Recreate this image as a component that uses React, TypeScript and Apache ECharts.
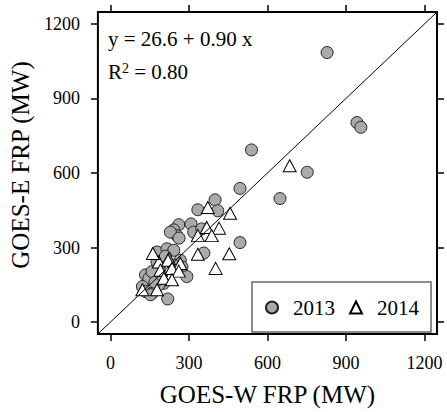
import React, { useEffect, useRef } from "react";
import * as echarts from "echarts";

// 2013 points: [GOES-W FRP, GOES-E FRP]
const data2013: number[][] = [
  [828, 1085], [942, 803], [957, 784], [752, 603], [648, 497], [539, 693],
  [495, 538], [400, 492], [410, 448], [334, 452], [495, 320], [357, 278],
  [261, 392], [308, 395], [242, 371], [254, 348], [229, 362], [318, 362],
  [349, 375], [178, 282], [216, 295], [242, 289], [262, 338], [178, 242],
  [267, 249], [273, 222], [254, 216], [292, 183], [134, 190], [147, 176],
  [159, 203], [204, 156], [185, 150], [122, 143], [134, 123], [159, 116],
  [219, 93], [153, 110], [170, 160], [195, 190], [240, 230], [210, 265],
];

// 2014 points
const data2014: number[][] = [
  [685, 629], [372, 461], [457, 438], [368, 381], [415, 378], [387, 348],
  [454, 275], [402, 216], [334, 348], [334, 273], [185, 242], [223, 256],
  [267, 236], [162, 276], [220, 249], [191, 209], [235, 216], [261, 205],
  [204, 176], [235, 170], [122, 130], [178, 130],
];

const tickValues = [0, 300, 600, 900, 1200];
const axisMin = -48;
const axisMax = 1248;
const seriesNames = ["2013", "2014"];
const fitText = "y = 26.6 + 0.90 x";
const r2Value = "0.80";

const FONT = "Liberation Serif";

export default function App() {
  const ref = useRef<HTMLDivElement>(null);
  useEffect(() => {
    if (!ref.current) return;
    const chart = echarts.init(ref.current, null, { renderer: "svg" });
    const tickCommon = {
      show: true,
      inside: false,
      length: 7,
      customValues: tickValues,
      lineStyle: { color: "#000", width: 1.5 },
    };
    const baseAxis = {
      type: "value" as const,
      min: axisMin,
      max: axisMax,
      splitLine: { show: false },
      axisLine: { show: false, onZero: false },
    };
    const fmt = (v: number) => String(v);
    chart.setOption({
      animation: false,
      backgroundColor: "#fff",
      grid: {
        left: 95,
        right: 10,
        top: 12,
        bottom: 73,
        show: true,
        borderColor: "#000",
        borderWidth: 2,
        backgroundColor: "transparent",
      },
      xAxis: [
        {
          ...baseAxis,
          position: "bottom",
          axisTick: tickCommon,
          axisLabel: {
            customValues: tickValues,
            formatter: fmt,
            margin: 20,
            color: "#000",
            fontSize: 18,
            fontFamily: FONT,
          },
          name: "GOES-W FRP (MW)",
          nameLocation: "middle",
          nameGap: 48,
          nameTextStyle: { color: "#000", fontSize: 25, fontFamily: FONT },
        },
        {
          ...baseAxis,
          position: "top",
          axisTick: tickCommon,
          axisLabel: { show: false },
        },
      ],
      yAxis: [
        {
          ...baseAxis,
          position: "left",
          axisTick: tickCommon,
          axisLabel: {
            customValues: tickValues,
            formatter: fmt,
            margin: 18,
            color: "#000",
            fontSize: 18,
            fontFamily: FONT,
          },
          name: "GOES-E FRP (MW)",
          nameLocation: "middle",
          nameGap: 57,
          nameTextStyle: {
            color: "#000",
            fontSize: 25,
            fontFamily: FONT,
            padding: [0, 0, 0, 16],
          },
        },
        {
          ...baseAxis,
          position: "right",
          axisTick: tickCommon,
          axisLabel: { show: false },
        },
      ],
      legend: {
        left: 252,
        top: 282,
        orient: "horizontal",
        data: seriesNames,
        padding: [15, 12, 14, 13],
        itemGap: 14,
        itemWidth: 12,
        itemHeight: 12,
        symbolKeepAspect: true,
        borderColor: "#666",
        borderWidth: 1.5,
        textStyle: {
          color: "#000",
          fontSize: 21,
          fontFamily: FONT,
          padding: [0, 0, 0, 10],
        },
      },
      graphic: [
        {
          type: "text",
          left: 108,
          top: 28,
          style: {
            text: fitText,
            fontSize: 21,
            fontFamily: FONT,
            fill: "#000",
          },
        },
        {
          type: "text",
          left: 108,
          top: 61,
          style: {
            text: "R{sup|2} = " + r2Value,
            fontSize: 21,
            fontFamily: FONT,
            fill: "#000",
            rich: {
              sup: {
                fontSize: 14,
                fontFamily: FONT,
                verticalAlign: "top",
                padding: [0, 0, 8, 0],
              },
            },
          },
        },
      ],
      series: [
        {
          name: seriesNames[0],
          type: "scatter",
          data: data2013,
          symbol: "circle",
          symbolSize: 12,
          itemStyle: { color: "#aaaaaa", borderColor: "#222", borderWidth: 1, opacity: 1 },
          z: 2,
        },
        {
          name: seriesNames[1],
          type: "scatter",
          data: data2014,
          symbol: "triangle",
          symbolSize: [13, 12],
          itemStyle: { color: "#ffffff", borderColor: "#000", borderWidth: 1, opacity: 1 },
          z: 3,
        },
        {
          name: "1:1",
          type: "line",
          data: [
            [axisMin, axisMin],
            [axisMax, axisMax],
          ],
          symbol: "none",
          lineStyle: { color: "#000", width: 1 },
          z: 4,
          silent: true,
        },
      ],
    });
    return () => chart.dispose();
  }, []);
  return (
    <div
      ref={ref}
      style={{ position: "fixed", left: 0, top: 0, width: 447, height: 412, background: "#fff" }}
    />
  );
}
